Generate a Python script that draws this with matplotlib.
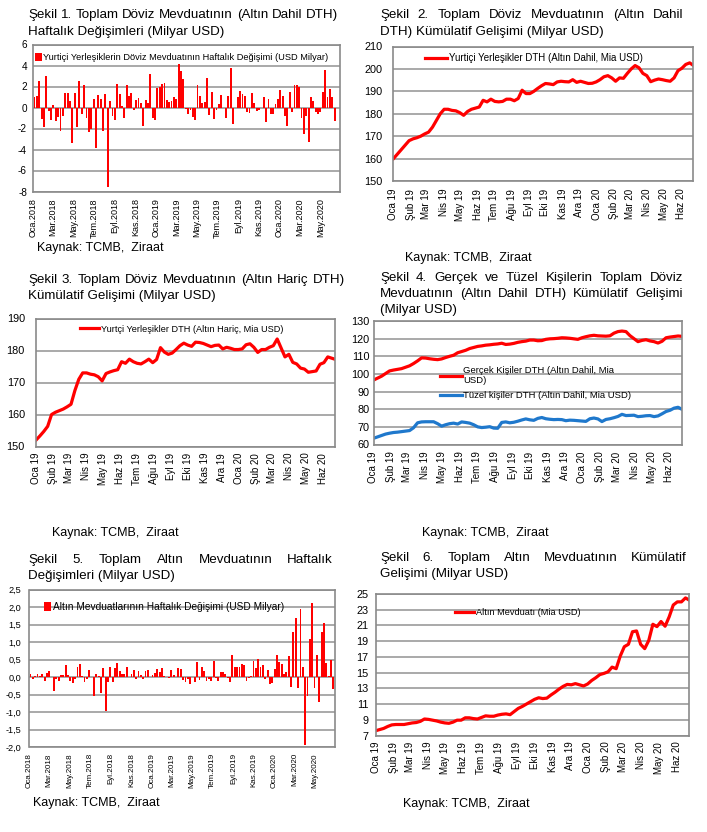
import matplotlib
matplotlib.use('Agg')
import matplotlib.pyplot as plt
import pandas as pd
import numpy as np

plt.rcParams['font.family'] = ['Liberation Sans', 'DejaVu Sans']
plt.rcParams['axes.unicode_minus'] = False

# ---------------- data ----------------
months_tr = ['Oca', 'Şub', 'Mar', 'Nis', 'May', 'Haz', 'Tem', 'Ağu', 'Eyl', 'Eki', 'Kas', 'Ara']

# Şekil 1: weekly change of FX deposits (incl. gold), USD bn
fx_weekly_change = [1.0, 1.1, 2.5, -1.1, -1.9, 3.0, -0.3, -1.2, 0.2, -1.3, -0.9, -2.2, -0.8, 1.4, 1.4, 0.6,
                    -3.4, 1.4, -1.9, 2.5, -0.6, 2.1, -1.0, -2.3, -2.0, 0.8, -3.9, 1.2, 0.8, -2.2, 1.3, -7.6,
                    0.6, -0.8, -1.2, 2.2, 1.3, 0.1, -1.0, 2.1, 1.1, 1.4, -0.2, 0.7, 0.9, 0.4, -1.8, 0.7,
                    0.4, 3.2, -1.0, -1.2, 1.9, 2.0, 2.2, 2.3, 0.7, 0.5, 0.6, 1.0, 0.8, 4.1, 3.5, 2.7,
                    -0.1, -0.6, -0.2, -0.9, -1.2, 2.1, 1.1, 0.4, 0.5, 2.8, -0.7, 1.5, -1.1, -0.2, 0.3, 1.2,
                    0.0, -1.0, 1.1, 3.8, -1.6, 0.0, 1.0, 1.6, 1.3, 1.1, -0.4, -0.5, 1.4, 0.4, -0.3, -0.2,
                    0.0, 1.0, -1.4, 0.8, -0.6, -0.6, 0.3, 0.8, 1.7, 1.1, -0.8, -1.8, 1.5, -0.4, 2.1, 2.1,
                    2.0, -1.0, -2.5, -0.8, -3.3, 1.0, 0.6, -0.4, -0.6, -0.4, 1.5, 3.6, 1.0, 1.8, 1.0, -1.3]

# Şekil 2: cumulative FX deposits incl. gold
fx_incl_gold = [160, 162, 164, 166, 168, 168.8, 169.3, 170, 171, 171.8, 174, 177, 180, 182, 182, 181.5,
                181.3, 180.5, 179.3, 181, 182, 182.5, 183, 186, 185.3, 186.5, 185.5, 185.3, 185.5, 186.5,
                186.5, 185.8, 186.8, 190.5, 189, 189, 190, 191.3, 192.5, 193.5, 193.3, 193, 194.2, 194.5,
                194.3, 194.2, 195.2, 194, 194.5, 194, 193.5, 193.6, 194.2, 195.2, 196.5, 197, 196, 194.5,
                196, 195.8, 198, 200, 201.5, 200.5, 198, 197, 194.3, 195, 195.5, 195.2, 194.8, 194.5,
                196, 199.2, 200.3, 202, 202.7, 201.5]

# Şekil 3: cumulative FX deposits excl. gold
fx_excl_gold = [152, 153.3, 154.7, 156.3, 160, 160.7, 161.2, 161.7, 162.4, 163.2, 167.5, 171, 173, 173,
                172.6, 172.4, 171.8, 170.5, 172.8, 173.3, 173.7, 174, 176.5, 176, 177.3, 176.5, 176, 175.8,
                176.5, 177.3, 176.2, 177.2, 180.9, 179.5, 178.8, 179.2, 180.3, 181.5, 182.3, 181.7, 181.3,
                182.6, 182.5, 182.2, 181.7, 181.2, 181.6, 181.7, 180.5, 181, 180.7, 180.3, 180.3, 180.5,
                181.8, 182.1, 181, 179.4, 180.3, 180.3, 181, 181.5, 183.6, 180.8, 178, 178.8, 176.3, 175.8,
                174.5, 174.2, 173.2, 173.4, 173.6, 175.7, 176.2, 178, 177.6, 177.2]

# Şekil 4: real persons / legal entities
real_persons = [96.5, 97.6, 98.7, 100.2, 101.7, 102.2, 102.6, 103, 103.8, 104.6, 105.9, 107.4, 109.1, 109,
                108.6, 108.3, 108.1, 108.5, 109.3, 110, 110.6, 112, 112.7, 113.4, 114.4, 115, 115.6, 115.9,
                116.3, 116.5, 116.8, 117, 117.4, 116.7, 116.9, 117.3, 117.9, 118.3, 118.6, 119.2, 119.2,
                118.8, 118.9, 119.6, 119.9, 120, 120.2, 120.5, 120.4, 120.2, 119.9, 119.6, 120.5, 121.1,
                121.6, 121.9, 121.6, 121.5, 121.4, 121.6, 123.1, 124, 124.3, 124, 121.7, 120, 118.3, 119,
                119.4, 118.7, 118.3, 117.5, 118.5, 120.5, 120.9, 121.2, 121.5, 121.3]
legal_entities = [63.5, 64.3, 65.1, 65.9, 66.4, 66.8, 67, 67.3, 67.6, 67.9, 69.5, 72.3, 72.8, 72.9, 72.9,
                  72.9, 71.8, 70.4, 71.2, 71.8, 72.1, 71.6, 72.8, 72.5, 72.1, 71.2, 70, 69.6, 69.8, 70.1,
                  69.3, 69.2, 72.5, 72.8, 72.3, 72.6, 73.2, 73.9, 74.5, 74, 73.7, 74.8, 75.3, 74.6, 74.3,
                  74.1, 74.2, 74.1, 73.5, 73.8, 73.7, 73.5, 73.3, 73.1, 74.6, 75, 74.5, 73, 74.2, 74.6, 75.2,
                  75.9, 77.1, 76.4, 76.5, 76.6, 75.8, 76, 76.3, 76.4, 75.8, 76.2, 77.4, 78.7, 79.4, 80.6,
                  81.1, 79.9]

# Şekil 5: weekly change of gold deposits
gold_weekly_change = [0.08, -0.05, 0.02, 0.08, 0.02, 0.08, -0.12, 0.12, 0.18, 0.0, -0.4, -0.05, -0.1, 0.06,
                      0.07, 0.35, 0.07, -0.1, -0.17, -0.05, 0.3, 0.38, 0.02, -0.15, -0.07, 0.2, 0.0, -0.53,
                      0.08, 0.02, -0.45, 0.27, -0.98, -0.15, 0.3, -0.13, 0.27, 0.4, 0.17, 0.08, 0.08, 0.3,
                      0.0, 0.08, 0.2, -0.06, 0.16, 0.05, -0.06, 0.17, 0.2, 0.0, 0.05, 0.12, 0.23, 0.15, 0.25,
                      0.02, 0.0, -0.03, 0.2, 0.07, 0.0, 0.25, 0.22, -0.08, -0.15, -0.05, -0.2, 0.0, -0.13,
                      0.43, -0.08, 0.3, 0.16, -0.12, -0.06, -0.1, 0.45, -0.04, -0.1, 0.13, 0.14, 0.08, -0.02,
                      -0.15, 0.62, 0.3, 0.28, 0.28, 0.38, 0.35, -0.1, -0.03, 0.02, 0.45, 0.25, 0.52, 0.28,
                      0.35, -0.06, 0.2, -0.2, -0.17, 0.22, 0.62, 0.42, 0.38, 0.1, 0.13, 0.6, -0.28, 1.28,
                      1.68, -0.32, 1.95, 0.3, -1.93, -0.55, 1.1, 2.12, -0.32, 0.62, -0.7, 1.3, 1.55, 0.4,
                      0.02, 0.5, -0.35]

# Şekil 6: cumulative gold deposits
gold_cumulative = [7.6, 7.75, 7.9, 8.15, 8.35, 8.4, 8.4, 8.4, 8.5, 8.6, 8.65, 8.8, 9.1, 9.05, 8.95, 8.85,
                   8.7, 8.6, 8.55, 8.7, 8.95, 8.95, 9.25, 9.25, 9.15, 9.1, 9.3, 9.5, 9.45, 9.45, 9.6, 9.7,
                   9.75, 9.65, 10.05, 10.45, 10.7, 11.0, 11.3, 11.6, 11.8, 11.7, 11.75, 12.15, 12.5, 12.9,
                   13.25, 13.5, 13.45, 13.6, 13.45, 13.3, 13.55, 14.0, 14.35, 14.75, 14.9, 15.1, 15.7, 15.5,
                   17.1, 18.3, 18.6, 20.2, 20.3, 18.6, 18.05, 19.1, 21.15, 20.85, 21.5, 20.9, 22.1, 23.6,
                   24.0, 24.0, 24.5, 24.2]

titles = {
    1: ["Şekil 1. Toplam Döviz Mevduatının (Altın Dahil DTH)", "Haftalık Değişimleri (Milyar USD)"],
    2: ["Şekil 2. Toplam Döviz Mevduatının (Altın Dahil", "DTH) Kümülatif Gelişimi (Milyar USD)"],
    3: ["Şekil 3. Toplam Döviz Mevduatının (Altın Hariç DTH)", "Kümülatif Gelişimi (Milyar USD)"],
    4: ["Şekil 4. Gerçek ve Tüzel Kişilerin Toplam Döviz", "Mevduatının (Altın Dahil DTH) Kümülatif Gelişimi",
        "(Milyar USD)"],
    5: ["Şekil 5. Toplam Altın Mevduatının Haftalık", "Değişimleri (Milyar USD)"],
    6: ["Şekil 6. Toplam Altın Mevduatının Kümülatif", "Gelişimi (Milyar USD)"],
}
source_text = "Kaynak: TCMB,  Ziraat"

# ---------------- layout helpers ----------------
W, H = 707, 832
fig = plt.figure(figsize=(W / 100, H / 100), dpi=100)
fig.patch.set_facecolor('white')
RED = '#ff0000'
BLUE = '#1f78cc'
GRID = '#a9a9a9'
FRAME = '#8a8a8a'


def add_ax(l, t, r, b):
    return fig.add_axes([l / W, 1 - b / H, (r - l) / W, (b - t) / H])


def ftext(x, y, s, **kw):
    return fig.text(x / W, 1 - y / H, s, **kw)


renderer = fig.canvas.get_renderer()


def justify(line, x0, x1, y, fs):
    words = line.split(' ')
    ts = [ftext(0, y, w, fontsize=fs, va='center', ha='left') for w in words]
    widths = [t.get_window_extent(renderer).width for t in ts]
    gap = (x1 - x0 - sum(widths)) / max(len(words) - 1, 1)
    x = x0
    for t, w in zip(ts, widths):
        t.set_position((x / W, 1 - y / H))
        x += w + gap


def title(lines, x0, x1, ys, just, fs=9.6):
    for line, y, j in zip(lines, ys, just):
        if j:
            justify(line, x0, x1, y, fs)
        else:
            ftext(x0, y, line, fontsize=fs, va='center', ha='left')


def style(ax, yfs, ypad, xpad):
    for s in ax.spines.values():
        s.set_color(FRAME)
        s.set_linewidth(1.2)
    ax.grid(axis='y', color=GRID, linewidth=1.4)
    ax.set_axisbelow(True)
    ax.tick_params(axis='y', length=0, labelsize=yfs, pad=ypad)
    ax.tick_params(axis='x', length=0, pad=xpad)


def legend(ax, x, y, fs, hl, loc='center left', **kw):
    return ax.legend(loc=loc, bbox_to_anchor=(x / W, 1 - y / H), bbox_transform=fig.transFigure,
                     frameon=False, fontsize=fs, handlelength=hl, handletextpad=0.15,
                     borderpad=0, borderaxespad=0, **kw)


# bar-chart dates / ticks
bar_dates1 = pd.date_range('2018-01-05', periods=len(fx_weekly_change), freq='7D')
bar_dates5 = pd.date_range('2018-01-04', periods=len(gold_weekly_change), freq='7D')
bar_ticks = pd.date_range('2018-01-01', '2020-05-01', freq='2MS')
bar_ticklabels = [f"{months_tr[d.month - 1]}.{d.year}" for d in bar_ticks]

line_dates = pd.date_range('2019-01-01', periods=78, freq='7D')
line_ticks = pd.date_range('2019-01-01', '2020-06-01', freq='MS')
line_ticklabels = [f"{months_tr[d.month - 1]} {str(d.year)[2:]}" for d in line_ticks]
line_xlim = (pd.Timestamp('2019-01-01'), pd.Timestamp('2020-06-22'))

XFONT = ['Liberation Sans', 'DejaVu Sans']

# ---------------- Panel 1 ----------------
ax1 = add_ax(32.5, 44.5, 340, 191.5)
ax1.bar(bar_dates1, fx_weekly_change, width=5.5, color=RED, linewidth=0,
        label='Yurtiçi Yerleşiklerin Döviz Mevduatının Haftalık Değişimi (USD Milyar)')
ax1.set_ylim(-8, 6)
ax1.set_yticks(np.arange(-8, 7, 2))
ax1.set_xlim(pd.Timestamp('2017-12-30'), pd.Timestamp('2020-06-28'))
ax1.set_xticks(bar_ticks)
ax1.set_xticklabels(bar_ticklabels, rotation=90, fontsize=6.5, family=XFONT)
style(ax1, 7.2, 4, 5)
legend(ax1, 35, 57.7, 6.7, 0.7, handleheight=0.9)
title(titles[1], 28, 338, [15, 32], [True, False])
ftext(37, 248, source_text, fontsize=9, va='center')

# ---------------- Panel 2 ----------------
ax2 = add_ax(393.5, 46.5, 693, 181)
ax2.plot(line_dates, fx_incl_gold, color=RED, lw=2.3,
         label='Yurtiçi Yerleşikler DTH (Altın Dahil, Mia USD)')
ax2.set_ylim(150, 210)
ax2.set_yticks(np.arange(150, 211, 10))
ax2.set_xlim(*line_xlim)
ax2.set_xticks(line_ticks)
ax2.set_xticklabels(line_ticklabels, rotation=90, fontsize=7, family=XFONT)
style(ax2, 7.8, 8, 5.5)
legend(ax2, 425, 58, 7, 2.3)
title(titles[2], 380, 683, [15, 31.5], [True, False])
ftext(405, 258, source_text, fontsize=9, va='center')

# ---------------- Panel 3 ----------------
ax3 = add_ax(36, 318.5, 335, 446.5)
ax3.plot(line_dates, fx_excl_gold, color=RED, lw=2.3,
         label='Yurtçi Yerleşikler DTH (Altın Hariç, Mia USD)')
ax3.set_ylim(150, 190)
ax3.set_yticks(np.arange(150, 191, 10))
ax3.set_xlim(*line_xlim)
ax3.set_xticks(line_ticks)
ax3.set_xticklabels(line_ticklabels, rotation=90, fontsize=7, family=XFONT)
style(ax3, 7.8, 8, 4.5)
legend(ax3, 80, 329, 6.6, 2.1)
title(titles[3], 28, 345, [280, 295.5], [True, False])
ftext(52, 533, source_text, fontsize=9, va='center')

# ---------------- Panel 4 ----------------
ax4 = add_ax(373.5, 321, 681.5, 444.5)
ax4.plot(line_dates, real_persons, color=RED, lw=2.3,
         label='Gerçek Kişiler DTH (Altın Dahil, Mia\nUSD)')
ax4.plot(line_dates, legal_entities, color=BLUE, lw=2.3,
         label='Tüzel kişiler DTH (Altın Dahil, Mia USD)')
ax4.set_ylim(60, 130)
ax4.set_yticks(np.arange(60, 131, 10))
ax4.set_xlim(*line_xlim)
ax4.set_xticks(line_ticks)
ax4.set_xticklabels(line_ticklabels, rotation=90, fontsize=7, family=XFONT)
style(ax4, 7.8, 3, 5)
legend(ax4, 440, 366, 6.8, 2.3, loc='upper left', labelspacing=0.6)
title(titles[4], 380, 683, [278, 294, 310], [True, True, False])
ftext(422, 533, source_text, fontsize=9, va='center')

# ---------------- Panel 5 ----------------
ax5 = add_ax(29.5, 589.5, 335, 747)
ax5.bar(bar_dates5, gold_weekly_change, width=5.5, color=RED, linewidth=0,
        label='Altın Mevduatlarının Haftalık Değişimi (USD Milyar)')
ax5.set_ylim(-2.0, 2.5)
yt5 = np.arange(-2.0, 2.51, 0.5)
ax5.set_yticks(yt5)
ax5.set_yticklabels([f"{v:.1f}".replace('.', ',') for v in yt5])
ax5.set_xlim(pd.Timestamp('2018-01-01'), bar_dates5[-1] + pd.Timedelta(days=5))
ax5.set_xticks(bar_ticks)
ax5.set_xticklabels(bar_ticklabels, rotation=90, fontsize=5.8, family=XFONT)
style(ax5, 6.6, 6, 4.5)
legend(ax5, 44, 607, 7.3, 0.7, handleheight=0.9)
title(titles[5], 28, 333, [560, 576], [True, False])
ftext(33, 803, source_text, fontsize=9, va='center')

# ---------------- Panel 6 ----------------
ax6 = add_ax(375.5, 594, 689, 735.5)
ax6.plot(line_dates, gold_cumulative, color=RED, lw=2.3, label='Altın Mevduatı (Mia USD)')
ax6.set_ylim(7, 25)
ax6.set_yticks(np.arange(7, 26, 2))
ax6.set_xlim(*line_xlim)
ax6.set_xticks(line_ticks)
ax6.set_xticklabels(line_ticklabels, rotation=90, fontsize=7, family=XFONT)
style(ax6, 7.8, 5, 4.5)
legend(ax6, 455, 612.7, 6.6, 2.1)
title(titles[6], 380, 687, [558, 574], [True, False])
ftext(403, 804, source_text, fontsize=9, va='center')

fig.savefig('out.png', dpi=100, facecolor='white')
